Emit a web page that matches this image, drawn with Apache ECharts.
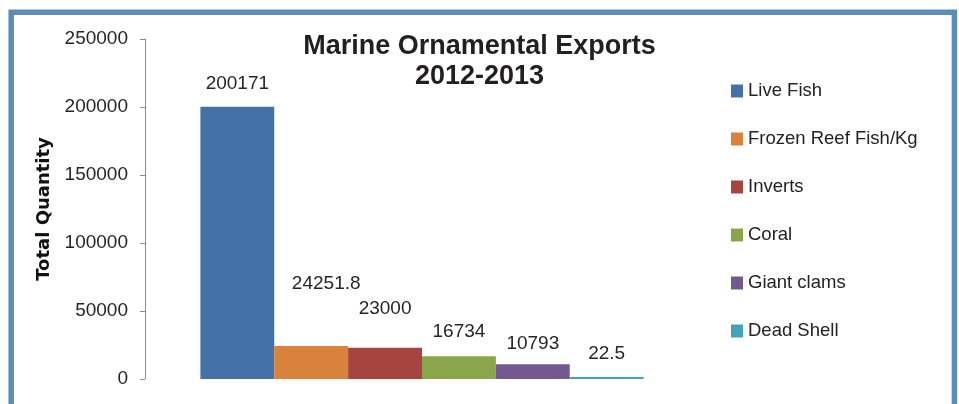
<!DOCTYPE html>
<html>
<head>
<meta charset="utf-8">
<script src="https://cdn.jsdelivr.net/npm/echarts@6/dist/echarts.min.js"></script>
<style>
  html, body { margin: 0; padding: 0; background: #fff; }
  #chart { width: 959px; height: 404px; }
</style>
</head>
<body>
<div id="chart"></div>
<script>
// data
const categories = ['2012-2013'];
const seriesNames = ['Live Fish', 'Frozen Reef Fish/Kg', 'Inverts', 'Coral', 'Giant clams', 'Dead Shell'];
const seriesValues = [200171, 24251.8, 23000, 16734, 10793, 22.5];
const seriesColors = ['#4471a6', '#d9823b', '#a8443f', '#8aa64b', '#73598f', '#44a3bc'];
// label nudges, the source placed a couple of them by hand
const labelOffsets = [[0, 0], [15, -39], [0, -15], [0, -1], [0, 3], [0, 0]];

const chart = echarts.init(document.getElementById('chart'));

const option = {
  animation: false,
  title: {
    text: 'Marine Ornamental Exports\n2012-2013',
    left: 'center',
    top: 32,
    padding: 0,
    textStyle: {
      fontFamily: 'Liberation Sans',
      fontSize: 27,
      fontWeight: 'bold',
      color: '#231f20',
      lineHeight: 30,
    },
  },
  legend: {
    orient: 'vertical',
    left: 731,
    top: 81,
    padding: 0,
    icon: 'rect',
    itemWidth: 12,
    itemHeight: 13,
    itemGap: 28,
    data: seriesNames,
    textStyle: {
      fontFamily: 'Liberation Sans',
      fontSize: 18.5,
      lineHeight: 20,
      color: '#222',
    },
  },
  grid: { left: 145, right: 260, top: 39, bottom: 25 },
  xAxis: {
    type: 'category',
    data: categories,
    axisLine: { show: false },
    axisTick: { show: false },
    axisLabel: { show: false },
  },
  yAxis: {
    type: 'value',
    min: 0,
    max: 250000,
    interval: 50000,
    name: 'Total Quantity',
    nameLocation: 'middle',
    nameGap: 84,
    nameTextStyle: {
      fontFamily: 'DejaVu Sans',
      fontSize: 18,
      fontWeight: 'bold',
      color: '#111',
    },
    axisLine: { show: true, lineStyle: { color: '#8c8c8c', width: 1 } },
    axisTick: { show: true, length: 5, lineStyle: { color: '#8c8c8c' } },
    splitLine: { show: false },
    axisLabel: {
      margin: 17,
      formatter: (v) => String(v),
      fontFamily: 'Liberation Sans',
      fontSize: 19,
      color: '#262626',
    },
  },
  series: seriesNames.map((name, i) => ({
    name: name,
    type: 'bar',
    data: [seriesValues[i]],
    barGap: '0%',
    barCategoryGap: '20%',
    barMinHeight: 2,
    itemStyle: { color: seriesColors[i] },
    label: {
      show: true,
      position: 'top',
      distance: 14,
      offset: labelOffsets[i],
      fontFamily: 'Liberation Sans',
      fontSize: 19,
      color: '#262626',
    },
  })),
  graphic: [{
    type: 'rect',
    shape: { x: 11.2, y: 12.2, width: 943.2, height: 430 },
    style: { fill: 'none', stroke: '#5b8db8', lineWidth: 5.5 },
    silent: true,
  }],
};

chart.setOption(option);
</script>
</body>
</html>
